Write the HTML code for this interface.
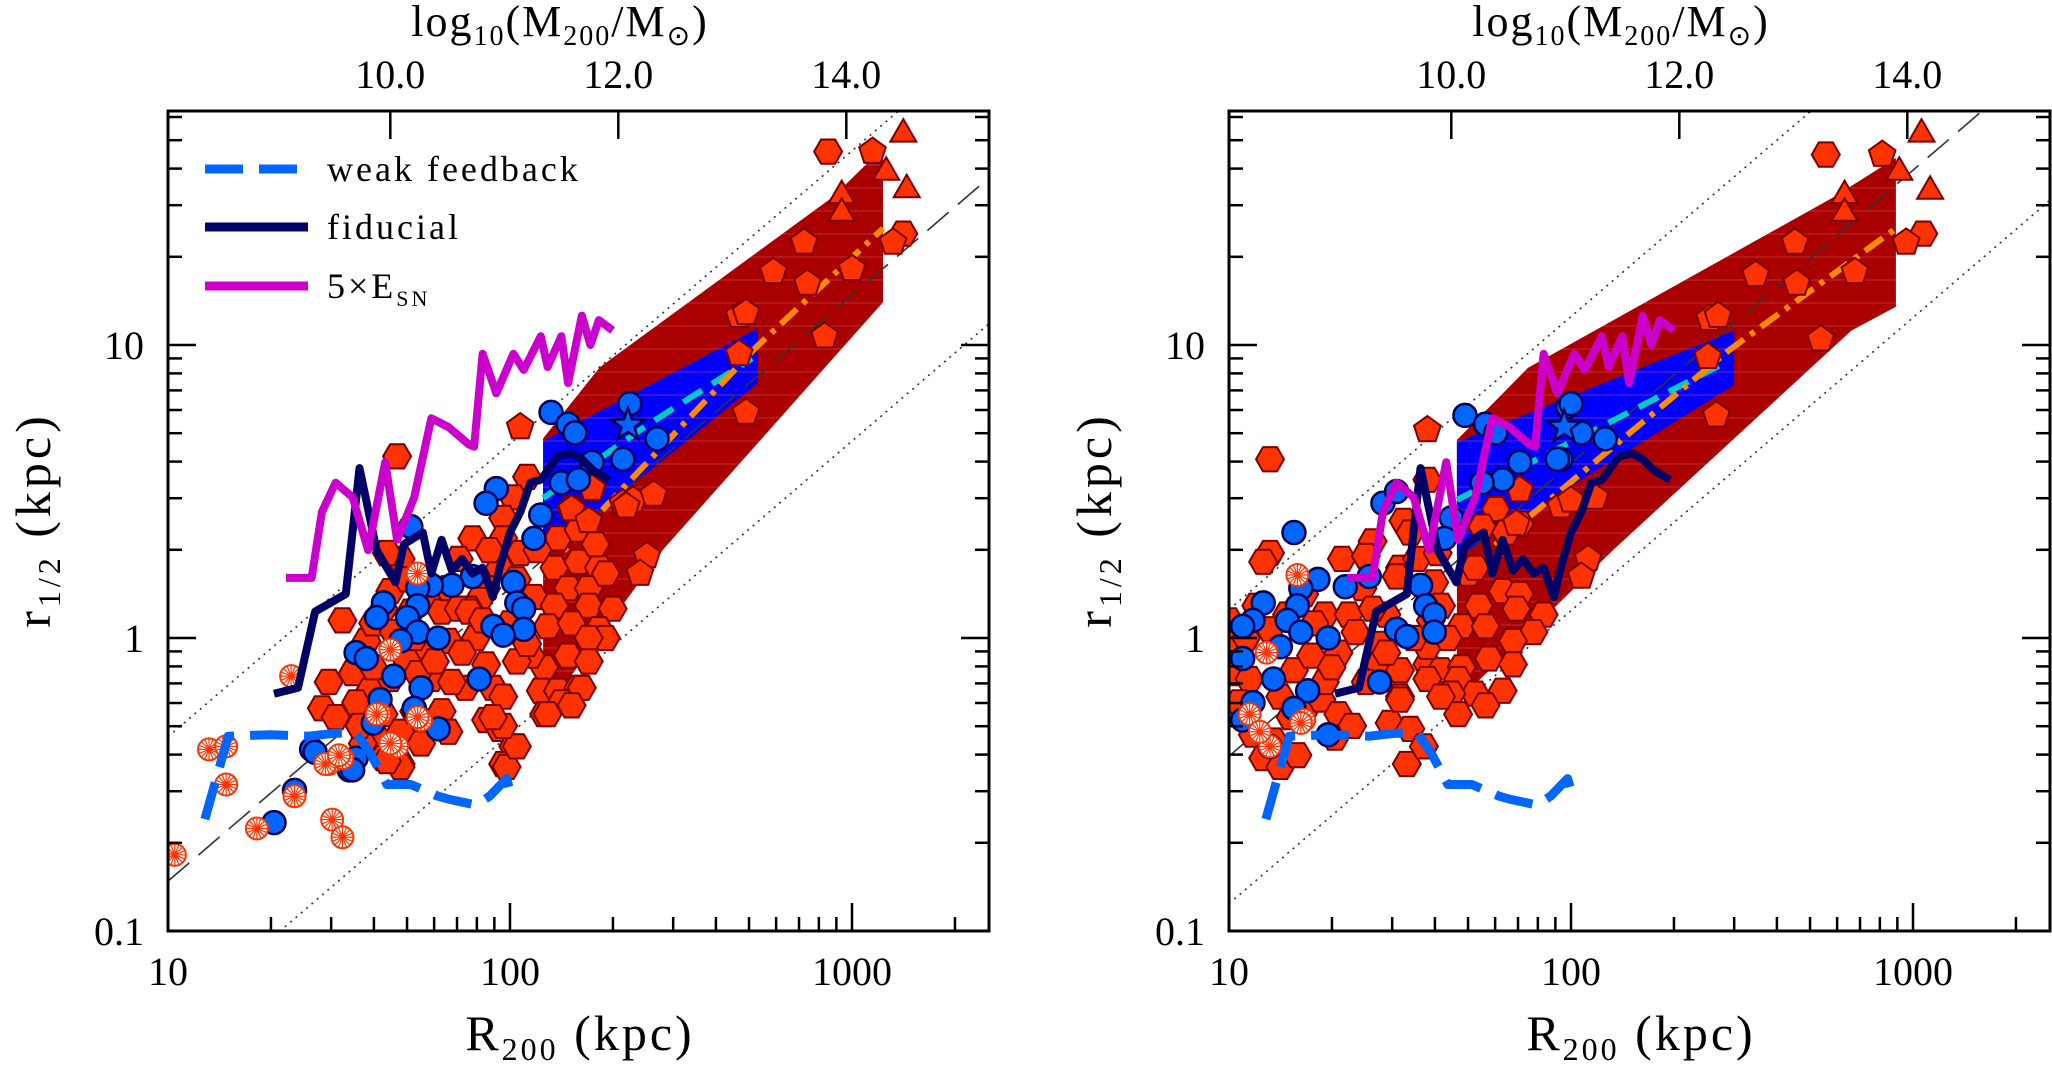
<!DOCTYPE html>
<html><head><meta charset="utf-8"><style>
html,body{margin:0;padding:0;background:#fff;}
svg{display:block;font-family:"Liberation Serif",serif;}
</style></head><body>
<svg id="fig" width="2052" height="1066" viewBox="0 0 2052 1066" xmlns="http://www.w3.org/2000/svg"></svg>
<script>
// ---------- shared simulation curves (log10 R200 kpc, log10 r1/2 kpc) ----------
const weakLogR = [1.108,1.176,1.30,1.41,1.49,1.55,1.59,1.64,1.71,1.79,1.82,1.90,1.94,1.99,2.00];
const weakLogr = [-0.618,-0.335,-0.33,-0.335,-0.325,-0.325,-0.39,-0.50,-0.50,-0.54,-0.55,-0.57,-0.54,-0.48,-0.52];
const fidLogR = [1.31,1.38,1.43,1.52,1.56,1.61,1.665,1.69,1.745,1.77,1.80,1.83,1.86,1.89,1.92,1.95,1.97,2.00,2.03,2.06,2.09,2.14,2.18,2.21,2.245,2.29];
const fidLogr = [-0.19,-0.17,0.09,0.15,0.58,0.30,0.19,0.32,0.36,0.22,0.335,0.23,0.27,0.22,0.24,0.14,0.24,0.36,0.43,0.53,0.54,0.62,0.63,0.61,0.57,0.54];
const sn5LogR = [1.345,1.42,1.45,1.49,1.54,1.585,1.635,1.67,1.72,1.77,1.82,1.88,1.895,1.92,1.96,2.01,2.04,2.09,2.11,2.15,2.17,2.21,2.235,2.26,2.30];
const sn5Logr = [0.205,0.205,0.43,0.53,0.48,0.30,0.60,0.335,0.48,0.75,0.72,0.66,0.653,0.97,0.835,0.97,0.915,1.03,0.925,1.03,0.87,1.10,1.00,1.085,1.05];

// ---------- left panel observational data ----------
const leftHex = [[1.67,0.62],[1.89,0.34],[2.05,0.55],[2.01,0.48],[1.98,0.41],[1.98,0.34],[2.03,0.29],[1.97,0.24],[2.02,0.20],[2.07,0.14],[1.93,0.17],[1.91,0.13],[1.88,0.10],
[2.18,0.44],[2.14,0.34],[2.20,0.37],[2.13,0.24],[2.20,0.26],[2.26,0.24],[2.17,0.17],[2.23,0.17],[2.28,0.22],[2.13,0.11],[2.23,0.11],[2.30,0.10],[2.11,0.04],[2.18,0.05],[2.26,0.03],[2.28,0.00],[2.23,0.00],[2.17,-0.06],[2.23,-0.08],[2.10,-0.10],[2.06,-0.06],[2.09,-0.18],[2.14,-0.18],[2.20,-0.17],[2.10,-0.26],[2.15,-0.22],[2.02,-0.08],[1.95,-0.17],[1.93,-0.28],[1.97,-0.31],[2.01,-0.37],[1.98,-0.43],[1.87,-0.17],
[1.51,0.06],[1.47,-0.15],[1.45,-0.24],[1.49,-0.27],[1.54,-0.12],[1.58,-0.01],[1.63,0.10],[1.65,0.16],[1.68,0.27],[1.64,0.29],[1.71,0.09],[1.76,0.15],[1.80,0.09],[1.82,0.17],[1.85,0.27],[1.85,0.10],[1.88,0.09],[1.82,-0.01],[1.76,-0.05],[1.70,-0.08],[1.65,-0.14],[1.59,-0.18],[1.55,-0.22],[1.63,-0.26],[1.68,-0.32],[1.61,-0.34],[1.57,-0.36],[1.68,-0.43],[1.63,-0.41],[1.77,-0.14],[1.80,-0.25],[1.82,-0.32],[1.72,-0.25],[1.83,-0.15],[1.73,-0.12],[1.93,-0.09],[1.98,-0.20],
[1.99,-0.44],[2.02,-0.37],[1.98,-0.30],[1.95,-0.27],[1.68,-0.44],[1.64,-0.42],[2.21,-0.17],[2.18,-0.23],[2.11,-0.26],
[1.60,0.05],[1.72,0.00],[1.78,-0.08],[1.66,0.02],[1.90,0.00],[1.92,0.06],[1.86,-0.05],[1.56,-0.30],[1.74,-0.36],[1.60,-0.10],[1.70,0.20],[1.94,0.30],[2.08,0.30],[2.00,0.05],[2.05,-0.02],[2.25,0.32],
[2.93,1.66],[3.15,1.38]];
const leftPent = [[2.03,0.72],[3.06,1.66],[2.86,1.35],[2.77,1.25],[2.87,1.21],[3.00,1.26],[2.67,1.10],[2.69,1.11],[2.92,1.03],[2.67,0.97],[2.69,0.77],[3.12,1.35],[2.33,0.46],[2.36,0.47],[2.42,0.49],[2.18,0.44],[2.24,0.51],[2.23,0.40],[2.34,0.45],[2.40,0.28],[2.38,0.22]];
const leftTri = [[3.15,1.73],[3.10,1.60],[2.97,1.52],[2.97,1.46],[3.16,1.54]];
const leftCirc = [[2.12,0.77],[2.17,0.73],[2.19,0.70],[2.35,0.80],[2.33,0.61],[2.43,0.68],[2.24,0.60],[2.15,0.53],[2.20,0.54],[1.96,0.51],[1.93,0.46],[2.09,0.42],[2.07,0.34],[1.71,0.38],[2.01,0.19],[2.02,0.12],[2.04,0.10],[2.04,0.03],[1.95,0.04],[1.98,0.01],[1.89,0.21],[1.83,0.18],[1.77,0.18],[1.73,0.17],[1.73,0.11],[1.63,0.12],[1.61,0.07],[1.70,0.07],[1.73,0.02],[1.79,0.00],[1.68,-0.01],[1.55,-0.05],[1.58,-0.07],[1.66,-0.13],[1.74,-0.17],[1.91,-0.14],[1.62,-0.21],[1.72,-0.24],[1.60,-0.29],[1.79,-0.31],[1.42,-0.38],[1.55,-0.41],[1.53,-0.45],[1.43,-0.39],[1.37,-0.52],[1.31,-0.63],[1.54,-0.45]];
const leftWheel = [[1.02,-0.74],[1.12,-0.38],[1.17,-0.37],[1.17,-0.50],[1.26,-0.65],[1.37,-0.54],[1.48,-0.62],[1.51,-0.68],[1.36,-0.13],[1.47,-0.43],[1.51,-0.41],[1.65,-0.04],[1.62,-0.26],[1.67,-0.37],[1.74,-0.28],[1.73,0.22],[1.61,-0.26],[1.73,-0.27],[1.65,-0.36],[1.46,-0.43],[1.50,-0.40]];
const leftStar = [[2.345,0.727]];
const leftRedR = [125,183,879,1150,1232,1232,280,153,134,125];
const leftRedr = [4.8,8.4,32,43.5,43.5,14,2.0,0.76,0.61,0.72];
const leftBlueR = [125,531,531,125];
const leftBluer = [4.7,11.4,7.4,1.89];
const leftCyanR = [125,250,510];
const leftCyanr = [3.0,5.3,9.0];
const leftOrangeR = [125,523,1232];
const leftOranger = [1.67,9.8,25];
const leftDashNorm = 0.0148, leftDotHi = 0.046, leftDotLo = 0.0047;

// ---------- right panel observational data ----------
const rightHex = [[1.12,0.61],[1.33,0.27],[1.12,0.29],[1.10,0.26],[1.42,0.33],[1.51,0.40],[1.53,0.36],[1.58,0.54],[1.50,0.24],[1.49,0.21],[1.55,0.27],[1.61,0.29],[1.60,0.19],[1.62,0.11],
[1.00,0.06],[1.02,-0.02],[1.01,-0.12],[1.06,-0.14],[1.03,-0.22],[1.07,-0.33],[1.10,-0.41],[1.15,-0.44],[1.13,-0.35],[1.18,-0.27],[1.22,-0.25],[1.27,-0.21],[1.32,-0.26],[1.31,-0.34],[1.28,-0.15],[1.19,-0.11],[1.24,-0.06],[1.32,-0.05],[1.28,0.08],[1.22,0.15],[1.17,0.08],[1.12,0.03],[1.08,0.11],[1.35,0.08],[1.39,0.17],[1.37,0.02],[1.44,-0.02],[1.44,-0.09],[1.50,-0.11],[1.46,-0.05],[1.50,-0.20],[1.47,-0.29],[1.53,-0.31],[1.52,-0.43],[1.57,-0.37],[1.58,-0.09],[1.62,-0.11],[1.58,-0.03],[1.59,0.06],[1.46,0.08],[1.40,0.28],
[1.70,0.22],[1.78,0.44],[1.85,0.39],[1.74,0.38],[1.81,0.36],[1.72,0.24],[1.80,0.16],[1.85,0.15],[1.73,0.11],[1.68,0.04],[1.75,0.04],[1.84,0.10],[1.92,0.08],[1.89,0.02],[1.83,-0.01],[1.76,-0.07],[1.83,-0.09],[1.68,-0.10],[1.67,-0.14],[1.80,-0.18],[1.72,-0.19],[1.65,-0.19],[1.75,-0.23],[1.67,-0.26],[1.58,-0.14],[1.62,-0.20],[1.50,-0.21],
[1.05,0.00],[1.15,-0.20],[1.25,0.05],[1.30,-0.10],[1.40,-0.15],[1.36,-0.30],[1.20,-0.40],[1.42,0.10],[1.54,0.00],[1.64,0.00],
[2.745,1.65],[3.03,1.38]];
const rightPent = [[1.58,0.71],[2.91,1.65],[2.655,1.35],[2.54,1.24],[2.66,1.21],[2.83,1.25],[2.405,1.09],[2.43,1.10],[2.73,1.02],[2.40,0.96],[2.425,0.76],[2.98,1.35],[1.85,0.505],[1.97,0.45],[2.00,0.47],[2.07,0.48],[1.84,0.39],[2.05,0.27],[2.03,0.21]];
const rightTri = [[3.025,1.73],[2.96,1.60],[2.80,1.52],[2.80,1.46],[3.05,1.535]];
const rightCirc = [[1.99,0.79],[2.03,0.70],[2.10,0.68],[1.97,0.61],[1.85,0.60],[1.80,0.54],[1.69,0.76],[1.75,0.73],[1.78,0.70],[2.00,0.80],[1.96,0.61],[1.74,0.53],[1.45,0.46],[1.49,0.50],[1.65,0.41],[1.63,0.34],[1.19,0.36],[1.56,0.18],[1.575,0.11],[1.60,0.08],[1.60,0.02],[1.49,0.03],[1.52,0.005],[1.41,0.21],[1.34,0.175],[1.26,0.20],[1.21,0.17],[1.20,0.11],[1.10,0.12],[1.07,0.06],[1.04,0.04],[1.17,0.06],[1.21,0.02],[1.29,0.00],[1.15,-0.03],[1.04,-0.07],[1.13,-0.14],[1.23,-0.18],[1.44,-0.15],[1.07,-0.22],[1.19,-0.24],[1.04,-0.28],[1.29,-0.33],[1.12,-0.37]];
const rightWheel = [[1.20,0.215],[1.11,-0.05],[1.06,-0.26],[1.22,-0.28],[1.12,-0.37],[1.09,-0.32],[1.21,-0.29]];
const rightStar = [[1.98,0.72]];
const rightRedR = [46.4,74.8,587,891,891,660,133,90,50,46.4];
const rightRedr = [4.74,8.35,32,43.5,13.5,11.2,2.0,1.28,0.66,0.67];
const rightBlueR = [46.4,300,300,46.4];
const rightBluer = [4.66,11.2,7.3,1.89];
const rightCyanR = [46.4,120,282];
const rightCyanr = [2.96,5.2,8.7];
const rightOrangeR = [48,290,891];
const rightOranger = [1.67,9.6,25];
const rightDashNorm = 0.0395, rightDotHi = 0.125, rightDotLo = 0.0124;

// ---------- tick labels ----------
const xTickVals = [10,100,1000];
const xTickLabels = ["10","100","1000"];
const yTickVals = [0.1,1,10];
const yTickLabels = ["0.1","1","10"];
const massTickVals = [10,12,14];
const massTickLabels = ["10.0","12.0","14.0"];

// ---------- drawing ----------
const NS = "http://www.w3.org/2000/svg";
const svg = document.getElementById("fig");
function mk(tag, attrs, parent){ const e=document.createElementNS(NS,tag); for(const k in attrs) e.setAttribute(k,attrs[k]); (parent||svg).appendChild(e); return e; }

const DEC_X = 342, DEC_Y = 293, Y0 = 111, Y1 = 931;
function makePanel(x0, name){
  const x1 = x0 + 821;
  const sx = lr => x0 + (lr - 1) * DEC_X;
  const sy = lr => Y1 - (lr + 1) * DEC_Y;
  const X = R => sx(Math.log10(R)), Y = r => sy(Math.log10(r));
  return {x0,x1,sx,sy,X,Y,name};
}
function pts(xs, ys, P){ return xs.map((v,i)=>P.X(v).toFixed(1)+","+P.Y(ys[i]).toFixed(1)).join(" "); }
function lpts(xs, ys, P){ return xs.map((v,i)=>P.sx(v).toFixed(1)+","+P.sy(ys[i]).toFixed(1)).join(" "); }
function polyShape(cx, cy, n, rad, rot){
  let s=[]; for(let k=0;k<n;k++){ const a=rot+2*Math.PI*k/n; s.push((cx+rad*Math.cos(a)).toFixed(1)+","+(cy+rad*Math.sin(a)).toFixed(1)); } return s.join(" ");
}

function drawPanel(P, d){
  const g = mk("g",{});
  
  
  const cid = "clip-"+P.name;
  const defs = mk("defs",{},g);
  const cp = mk("clipPath",{id:cid},defs);
  mk("rect",{x:P.x0,y:Y0,width:P.x1-P.x0,height:Y1-Y0},cp);
  const hid = "hatch-"+P.name;
  const cp2 = mk("clipPath",{id:hid},defs);
  mk("polygon",{points:pts(d.redR,d.redr,P)},cp2);
  const plot = mk("g",{"clip-path":"url(#"+cid+")"},g);

  const red = mk("polygon",{points:pts(d.redR,d.redr,P),fill:"#aa0000"},plot);
  
  
  const blue = mk("polygon",{points:pts(d.blueR,d.bluer,P),fill:"#0000ff"},plot);
  
  
  const hg = mk("g",{"clip-path":"url(#"+hid+")"},plot);
  for(let y=Y0+8;y<Y1;y+=23) mk("line",{x1:P.x0,x2:P.x1,y1:y,y2:y,stroke:"#d06060","stroke-width":1,opacity:0.5},hg);

  const diag = (norm, dash, nm)=>{
    const l = mk("line",{x1:P.X(10),y1:P.Y(10*norm),x2:P.X(3000),y2:P.Y(3000*norm),stroke:"#333","stroke-width":1.6,"stroke-dasharray":dash},plot);
    
    
  };
  diag(d.dashNorm,"28,12","fixed-ratio-line");
  diag(d.dotHi,"2,5","upper-scatter-line");
  diag(d.dotLo,"2,5","lower-scatter-line");

  const cy = mk("polyline",{points:pts(d.cyanR,d.cyanr,P),fill:"none",stroke:"#00cccc","stroke-width":6,"stroke-dasharray":"22,12"},plot);
  
  
  const orr = mk("polyline",{points:pts(d.orR,d.orr,P),fill:"none",stroke:"#ff8c00","stroke-width":6,"stroke-dasharray":"22,8,5,8"},plot);
  
  

  const FILL="#ff3300", EDGE="#7a0000";
  d.hex.forEach(p=>{ const m=mk("polygon",{points:polyShape(P.sx(p[0]),P.sy(p[1]),6,14,0),fill:FILL,stroke:EDGE,"stroke-width":2},plot);
      });
  d.pent.forEach(p=>{ const m=mk("polygon",{points:polyShape(P.sx(p[0]),P.sy(p[1]),5,14,-Math.PI/2),fill:FILL,stroke:EDGE,"stroke-width":2},plot);
      });
  d.tri.forEach(p=>{ const m=mk("polygon",{points:polyShape(P.sx(p[0]),P.sy(p[1])+3,3,15,-Math.PI/2),fill:FILL,stroke:EDGE,"stroke-width":2},plot);
      });
  d.circ.forEach(p=>{ const m=mk("circle",{cx:P.sx(p[0]),cy:P.sy(p[1]),r:11.5,fill:"#0066ff",stroke:"#000055","stroke-width":2.5},plot);
      });
  d.star.forEach(p=>{ const cx=P.sx(p[0]), cyy=P.sy(p[1]); let s=[];
    for(let k=0;k<10;k++){ const a=-Math.PI/2+Math.PI*k/5, rr=k%2?7:17; s.push((cx+rr*Math.cos(a)).toFixed(1)+","+(cyy+rr*Math.sin(a)).toFixed(1)); }
    const m=mk("polygon",{points:s.join(" "),fill:"#0066ff",stroke:"#000055","stroke-width":2.5},plot);
      });
  d.wheel.forEach(p=>{ const cx=P.sx(p[0]), cyy=P.sy(p[1]); const wg=mk("g",{},plot);
     
    mk("circle",{cx:cx,cy:cyy,r:11,fill:"#fff",stroke:"#ff3300","stroke-width":2},wg);
    for(let k=0;k<8;k++){ const a=Math.PI*k/8; mk("line",{x1:cx-11*Math.cos(a),y1:cyy-11*Math.sin(a),x2:cx+11*Math.cos(a),y2:cyy+11*Math.sin(a),stroke:"#ff3300","stroke-width":1.2},wg); }
  });

  const c1 = mk("polyline",{points:lpts(weakLogR,weakLogr,P),fill:"none",stroke:"#0066ff","stroke-width":9,"stroke-dasharray":"38,16","stroke-linejoin":"round"},plot);
   
  const c2 = mk("polyline",{points:lpts(fidLogR,fidLogr,P),fill:"none",stroke:"#000066","stroke-width":8,"stroke-linejoin":"round"},plot);
   
  const c3 = mk("polyline",{points:lpts(sn5LogR,sn5Logr,P),fill:"none",stroke:"#cc00cc","stroke-width":8,"stroke-linejoin":"round"},plot);
   

  const fr = mk("rect",{x:P.x0,y:Y0,width:P.x1-P.x0,height:Y1-Y0,fill:"none",stroke:"#000","stroke-width":3},g);
   

  for(let dec=1;dec<=3;dec++) for(let m=1;m<=9;m++){
    const v=m*Math.pow(10,dec), x=P.X(v); if(x>P.x1-1) continue;
    const len = m===1?28:14;
    mk("line",{x1:x,x2:x,y1:Y1,y2:Y1-len,stroke:"#000","stroke-width":2.5},g);
  }
  xTickVals.forEach((v,i)=>{ const t=mk("text",{x:P.X(v),y:985,"font-size":40,"text-anchor":"middle"},g); t.textContent=xTickLabels[i];
      });
  for(let dec=-1;dec<=1;dec++) for(let m=1;m<=9;m++){
    const v=m*Math.pow(10,dec), y=P.Y(v); if(y<Y0+1) continue;
    const len = m===1?28:14;
    mk("line",{x1:P.x0,x2:P.x0+len,y1:y,y2:y,stroke:"#000","stroke-width":2.5},g);
    mk("line",{x1:P.x1,x2:P.x1-len,y1:y,y2:y,stroke:"#000","stroke-width":2.5},g);
  }
  yTickVals.forEach((v,i)=>{ const t=mk("text",{x:P.x0-24,y:P.Y(v)+14,"font-size":40,"text-anchor":"end"},g); t.textContent=yTickLabels[i];
      });
  massTickVals.forEach((m,i)=>{ const x=P.sx(1.65+(m-10)/3);
    mk("line",{x1:x,x2:x,y1:Y0,y2:Y0+28,stroke:"#000","stroke-width":2.5},g);
    const t=mk("text",{x:x,y:88,"font-size":40,"text-anchor":"middle"},g); t.textContent=massTickLabels[i];
      });

  const xt = mk("text",{x:P.x0+412,y:1050,"font-size":50,"text-anchor":"middle","letter-spacing":3},g);
  xt.innerHTML = 'R<tspan font-size="32" dy="10">200</tspan><tspan dy="-10">  (kpc)</tspan>';
   
  const yt = mk("text",{x:0,y:0,"font-size":50,"text-anchor":"middle","letter-spacing":4,transform:"translate("+(P.x0-118)+",520) rotate(-90)"},g);
  yt.innerHTML = 'r<tspan font-size="32" dy="10">1/2</tspan><tspan dy="-10">  (kpc)</tspan>';
   
  const tt = mk("text",{x:P.x0+392,y:36,"font-size":44,"text-anchor":"middle","letter-spacing":2},g);
  tt.innerHTML = 'log<tspan font-size="28" dy="9">10</tspan><tspan dy="-9">(M</tspan><tspan font-size="28" dy="9">200</tspan><tspan dy="-9">/M</tspan><tspan font-size="28" dy="9">⊙</tspan><tspan dy="-9">)</tspan>';
   
  return g;
}

const PL = makePanel(168, "left");
drawPanel(PL, {hex:leftHex,pent:leftPent,tri:leftTri,circ:leftCirc,wheel:leftWheel,star:leftStar,
  redR:leftRedR,redr:leftRedr,blueR:leftBlueR,bluer:leftBluer,cyanR:leftCyanR,cyanr:leftCyanr,orR:leftOrangeR,orr:leftOranger,
  dashNorm:leftDashNorm,dotHi:leftDotHi,dotLo:leftDotLo});
const PR = makePanel(1229, "right");
drawPanel(PR, {hex:rightHex,pent:rightPent,tri:rightTri,circ:rightCirc,wheel:rightWheel,star:rightStar,
  redR:rightRedR,redr:rightRedr,blueR:rightBlueR,bluer:rightBluer,cyanR:rightCyanR,cyanr:rightCyanr,orR:rightOrangeR,orr:rightOranger,
  dashNorm:rightDashNorm,dotHi:rightDotHi,dotLo:rightDotLo});

const lg = mk("g",{});


const legendNames = ["weak feedback","fiducial","5×E"];
const legendColors = ["#0066ff","#000066","#cc00cc"];
const legendY = [169,227,286];
legendNames.forEach((n,i)=>{
  const e = mk("g",{},lg);
  
  
  mk("line",{x1:205,x2:308,y1:legendY[i],y2:legendY[i],stroke:legendColors[i],"stroke-width":9,"stroke-dasharray":i===0?"38,16":"none"},e);
  const t = mk("text",{x:327,y:legendY[i]+12,"font-size":36,"letter-spacing":3},e);
  if(i===2){ t.innerHTML='5×E<tspan font-size="22" dy="8">SN</tspan>'; } else t.textContent=n;
});
</script>
</body></html>
